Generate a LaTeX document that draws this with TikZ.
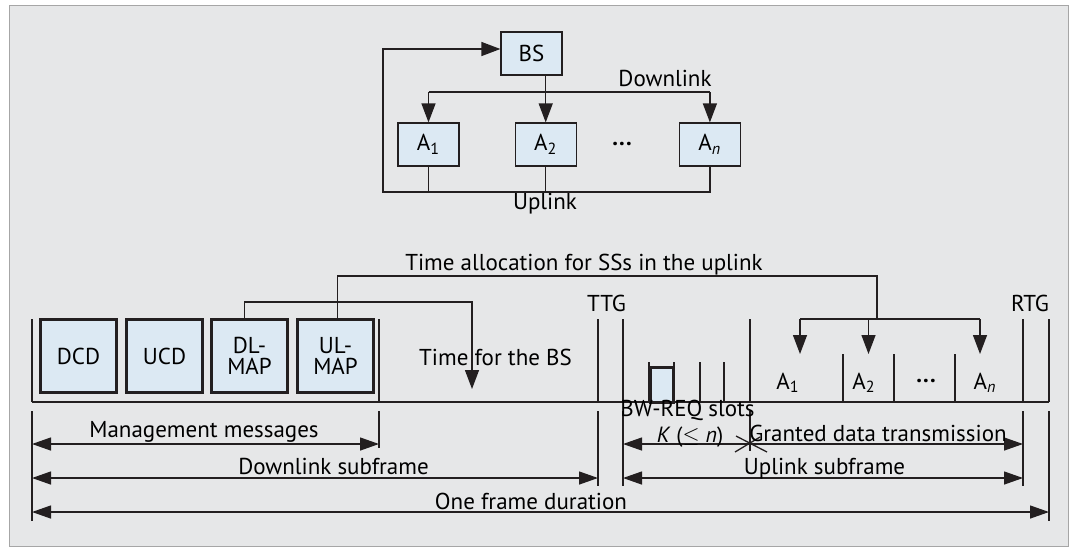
\documentclass[tikz,border=0pt]{standalone}
\usepackage{fontspec}
\setmainfont{PT Sans}
\usetikzlibrary{positioning,arrows.meta}
\definecolor{bgGray}{HTML}{E6E7E8}
\definecolor{boxBlue}{HTML}{DCE9F3}
\definecolor{inkDark}{HTML}{231F20}
\newcommand{\middots}{\textbf{\raisebox{0.28em}{.\kern0.6pt.\kern0.6pt.}}}
\tikzset{station node/.style={rectangle,fill=boxBlue,draw=inkDark,line width=0.6pt,minimum width=30.5pt,minimum height=21.5pt,inner sep=0pt,font=\fontsize{11.5}{12}\selectfont}}
\tikzset{msg node/.style={rectangle,fill=boxBlue,draw=inkDark,line width=1.5pt,minimum width=38pt,minimum height=36.5pt,inner sep=0pt,align=center,font=\fontsize{11.5}{10.5}\selectfont}}
\tikzset{label text/.style={inner sep=0pt,anchor=base,font=\fontsize{11.5}{12}\selectfont}}
\tikzset{link/.style={draw=inkDark,line width=0.65pt}}
\tikzset{link arrow/.style={link,-{Triangle[length=9.5pt,width=7pt]}}}
\tikzset{dim arrow/.style={link,{Triangle[length=9.5pt,width=6.5pt]}-{Triangle[length=9.5pt,width=6.5pt]}}}

\begin{document}
\begin{tikzpicture}[x=0.5pt,y=-0.5pt]
            \useasboundingbox (0,0) rectangle (1075,548);
            \draw[fill=bgGray,draw=gray!70] (9,5) rectangle (1068,546);

            % stations
            \node[station node] (BS) at (531.5,53.5) {BS};
            \node[station node] (A1) at (428.5,144.5) {A\textsubscript{1}};
            \node[station node] (A2) [right=27.5pt of A1] {A\textsubscript{2}};
            \node[station node] (An) [right=51pt of A2] {A\textsubscript{\itshape n}};
            \node[label text] (dots) at (622,152) {\middots};
            \node[label text] (downlab) at (665,86) {Downlink};
            \node[label text] (uplab) at (545,209) {Uplink};
            \coordinate (dl) at (544,92);
            \coordinate (ul) at (383,192);

            \draw[link arrow] (BS.south -| A2) -- (A2.north);
            \draw[link] (dl -| A1) -- (dl -| An);
            \draw[link arrow] (dl -| A1) -- (A1.north);
            \draw[link arrow] (dl -| An) -- (An.north);
            \draw[link arrow] (An.south) |- (ul) |- ([yshift=2.25pt]BS.west);
            \draw[link] (A1.south) -- (A1 |- ul);
            \draw[link] (A2.south) -- (A2 |- ul);

            % frame
            \node[msg node] (DCD) at (78.5,356) {DCD};
            \node[msg node] (UCD) [right=3.5pt of DCD] {UCD};
            \node[msg node] (DLMAP) [right=3pt of UCD] {DL-\\MAP};
            \node[msg node] (ULMAP) [right=3.5pt of DLMAP] {UL-\\MAP};

            \draw[link] (32,402) -- (1049,402);
            \foreach \x in {32,379,598,623,750,1023,1049}
                \draw[link] (\x,319) -- (\x,402);
            \foreach \x in {649,674,700,724}
                \draw[link] (\x,362) -- (\x,402);
            \foreach \x in {843,894,955}
                \draw[link] (\x,354) -- (\x,402);
            \draw[fill=boxBlue,draw=inkDark,line width=1.5pt] (650,367.5) rectangle (673.5,402);

            \node[label text] (alloclab) at (584,270.7) {Time allocation for SSs in the uplink};
            \node[label text] (bslab) at (495.5,365) {Time for the BS};
            \node[label text] (ttglab) at (606.5,311) {TTG};
            \node[label text] (rtglab) at (1030,311) {RTG};
            \node[label text] (s1) at (788,389) {A\textsubscript{1}};
            \node[label text] (s2) at (864,389) {A\textsubscript{2}};
            \node[label text] (s3) at (926,389) {\middots};
            \node[label text] (sn) at (985,389) {A\textsubscript{\itshape n}};

            \coordinate (bsend) at (472,389);
            \coordinate (dlturn) at (472,302);
            \draw[link arrow] ([xshift=-2.5pt]DLMAP.north) |- (dlturn) -- (bsend);
            \coordinate (ulturn) at (877,276);
            \coordinate (ulfork) at (877,319);
            \draw[link] ([xshift=1pt]ULMAP.north) |- (ulturn) -- (ulfork);
            \coordinate (g1) at (800,354);
            \coordinate (g2) at (868.5,354);
            \coordinate (gn) at (980,354);
            \draw[link] (g1 |- ulfork) -- (gn |- ulfork);
            \foreach \g in {g1,g2,gn}
                \draw[link arrow] (\g |- ulfork) -- (\g);

            % durations
            \draw[link] (32,411) -- (32,521);
            \draw[link] (379,411) -- (379,448);
            \draw[link] (598,411) -- (598,486);
            \draw[link] (623,411) -- (623,486);
            \draw[link] (750,411) -- (750,451);
            \draw[link] (1023,411) -- (1023,486);
            \draw[link] (1049,411) -- (1049,521);
            \draw[link] (736,436) -- (767,452);
            \draw[link] (735,452) -- (760,437);

            \draw[dim arrow] (32,444) -- (379,444);
            \draw[dim arrow] (32,478) -- (598,478);
            \draw[dim arrow] (32,512) -- (1049,512);
            \draw[link,{Triangle[length=9.5pt,width=6.5pt]}-] (623,444) -- (750,444);
            \draw[link,-{Triangle[length=9.5pt,width=6.5pt]}] (750,444) -- (1023,444);
            \draw[dim arrow] (623,478) -- (1023,478);

            \node[label text] (mgmtlab) at (204,437) {Management messages};
            \node[label text] (dllab) at (333.5,474) {Downlink subframe};
            \node[label text] (framelab) at (531,509) {One frame duration};
            \node[label text] (bwlab) at (687.5,416) {BW-REQ slots};
            \node[label text,font=\fontsize{11}{12}\selectfont] (klab) at (690,442.5) {\textit{K} ($\leq$ \textit{n})};
            \node[label text] (grantlab) at (878,441) {Granted data transmission};
            \node[label text] (ullab) at (824.5,474) {Uplink subframe};
        \end{tikzpicture}
\end{document}
